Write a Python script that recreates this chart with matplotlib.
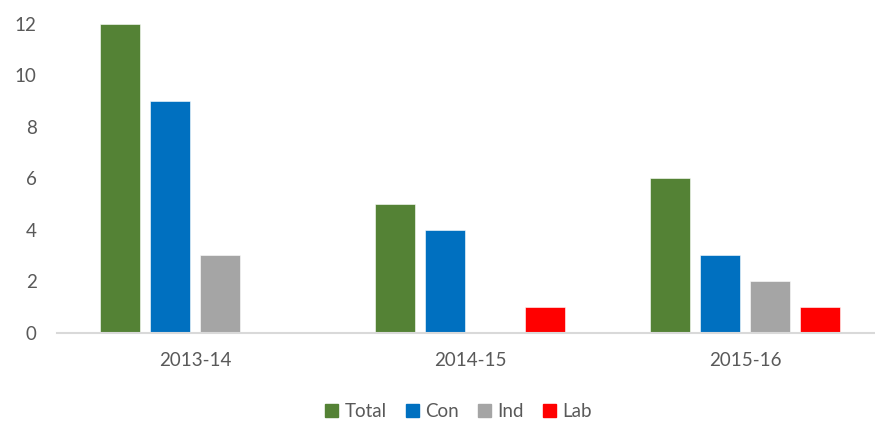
import numpy as np
import matplotlib.pyplot as plt
from matplotlib.patches import Patch

plt.rcParams['font.family'] = ['Lato', 'DejaVu Sans']

years = ['2013-14', '2014-15', '2015-16']
series = ['Total', 'Con', 'Ind', 'Lab']
total = [12, 5, 6]
con = [9, 4, 3]
ind = [3, 0, 2]
lab = [0, 1, 1]
colors = ['#548235', '#0070C0', '#A5A5A5', '#FF0000']

fig = plt.figure(figsize=(8.75, 4.24), dpi=100)
ax = fig.add_axes([0.0657, 0.2158, 0.9343, 0.7276])

x = np.arange(len(years))
width = 0.145
step = 0.182
for i, (vals, c) in enumerate(zip([total, con, ind, lab], colors)):
    offs = (i - 1.5) * step
    ax.bar(x + offs, vals, width, color=c, edgecolor='white', linewidth=0.4)

ax.set_xlim(-0.5, 2.473)
ax.set_ylim(0, 12)
ax.set_yticks(range(0, 13, 2))
ax.set_xticks(x)
ax.set_xticklabels(years)

for s in ['top', 'right', 'left']:
    ax.spines[s].set_visible(False)
ax.spines['bottom'].set_color('#D9D9D9')
ax.spines['bottom'].set_linewidth(1.5)
ax.tick_params(axis='y', length=0, pad=15, labelsize=13.5, labelcolor='#595959')
ax.tick_params(axis='x', length=0, pad=14, labelsize=13.5, labelcolor='#595959')

handles = [Patch(color=c) for c in colors]
fig.legend(handles, series, loc='center', bbox_to_anchor=(0.524, 0.03),
           ncol=4, frameon=False, fontsize=13.5, handlelength=0.7,
           handleheight=0.7, handletextpad=0.35, columnspacing=1.0,
           labelcolor='#595959')

fig.savefig('out.png', dpi=100)
